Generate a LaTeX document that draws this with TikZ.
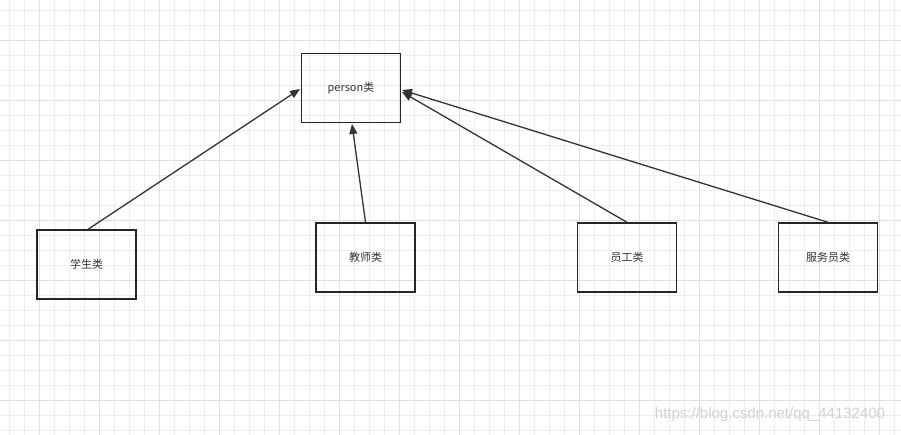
\documentclass[tikz,border=0pt]{standalone}
\usepackage{fontspec}
\setmainfont{Noto Sans CJK SC}
\setsansfont{Liberation Sans}
\usetikzlibrary{arrows.meta}
\begin{document}
\begin{tikzpicture}[x=1pt,y=-1pt,
  box/.style={draw=black!85,line width=1.4pt,minimum width=99pt,minimum height=69pt,inner sep=0pt,font=\fontsize{11}{13}\selectfont,text=black!80},
  conn/.style={draw=black!80,line width=1.3pt,-{Triangle[length=10pt,width=8pt]}}]
\useasboundingbox (0,0) rectangle (901,435);
\fill[white] (0,0) rectangle (901,435);
\foreach \x in {9.5,24.5,...,901} \draw[black!7,line width=0.8pt] (\x,0) -- (\x,435);
\foreach \y in {10,25,...,435} \draw[black!7,line width=0.8pt] (0,\y) -- (901,\y);
\foreach \x in {39.5,99.5,...,901} \draw[black!12,line width=0.8pt] (\x,0) -- (\x,435);
\foreach \y in {40,100,...,435} \draw[black!12,line width=0.8pt] (0,\y) -- (901,\y);
\node[box] (p) at (351,88) {person类};
\node[box] (s) at (86.5,264.5) {学生类};
\node[box] (t) at (365.5,257.5) {教师类};
\node[box] (e) at (627,257.5) {员工类};
\node[box] (f) at (828,257.5) {服务员类};
\coordinate (pa) at (300,89);
\coordinate (pb) at (352,124);
\coordinate (pc) at (402,92);
\coordinate (pd) at (402,90);
\draw[conn] (s.north) ++(1.5,0) coordinate (s1) (s1) -- (pa);
\draw[conn] (t.north) -- (pb);
\draw[conn] (e.north) -- (pc);
\draw[conn] (f.north) -- (pd);
\node[text=black!18,font=\fontsize{15}{17}\selectfont\sffamily] (w) at (770,415) {https://blog.csdn.net/qq\_44132400};
\end{tikzpicture}
\end{document}
